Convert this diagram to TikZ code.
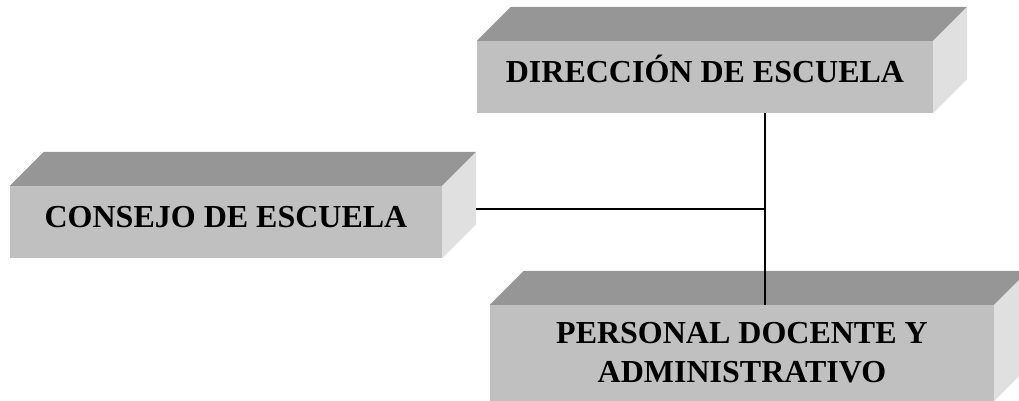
\documentclass[tikz,border=0pt]{standalone}
\usepackage{fontspec}
\setmainfont{Liberation Serif}
\usetikzlibrary{%
  positioning,%
  calc%
}
\definecolor{FrontGray}{HTML}{C0C0C0}
\definecolor{TopGray}{HTML}{969696}
\definecolor{SideGray}{HTML}{E0E0E0}

\tikzset{
  FaceStyle/.style  = {fill=FrontGray, inner sep=0pt, font=\bfseries\fontsize{32}{39}\selectfont},
  LabelStyle/.style = {FaceStyle, text height=21pt, text depth=10pt},
  EdgeStyle/.style  = {line width=1.2pt, black}
}
% top and side faces of a box
\newcommand{\Caja}[1]{%
  \fill[TopGray] (#1.north west) -- (#1.north east) -- ++(34,-34)
    -- ([shift={(34,-34)}]#1.north west) -- cycle;
  \fill[SideGray] (#1.north east) -- (#1.south east) -- ++(34,-34)
    -- ([shift={(34,-34)}]#1.north east) -- cycle;
}

\begin{document}
\begin{tikzpicture}[x=1pt, y=-1pt]
  \useasboundingbox (0,0) rectangle (1019,400);
  \clip (0,0) rectangle (1019,400);

  \node[LabelStyle, minimum width=456pt, minimum height=72pt] (dir)  at (705, 77) {DIRECCIÓN DE ESCUELA};
  \node[LabelStyle, minimum width=432pt, minimum height=72pt] (cons) at (226,222) {CONSEJO DE ESCUELA};
  \node[FaceStyle, align=center, minimum width=504pt, minimum height=96pt] (pers) at (742,353)
    {PERSONAL DOCENTE Y\\ADMINISTRATIVO};
  \Caja{dir}
  \Caja{cons}
  \Caja{pers}

  % connectors
  \coordinate (jn) at (765,209);
  \draw[EdgeStyle] (dir.south -| jn) -- (pers.north -| jn);
  \draw[EdgeStyle] ([xshift=34pt]jn -| cons.east) -- (jn);
\end{tikzpicture}
\end{document}
